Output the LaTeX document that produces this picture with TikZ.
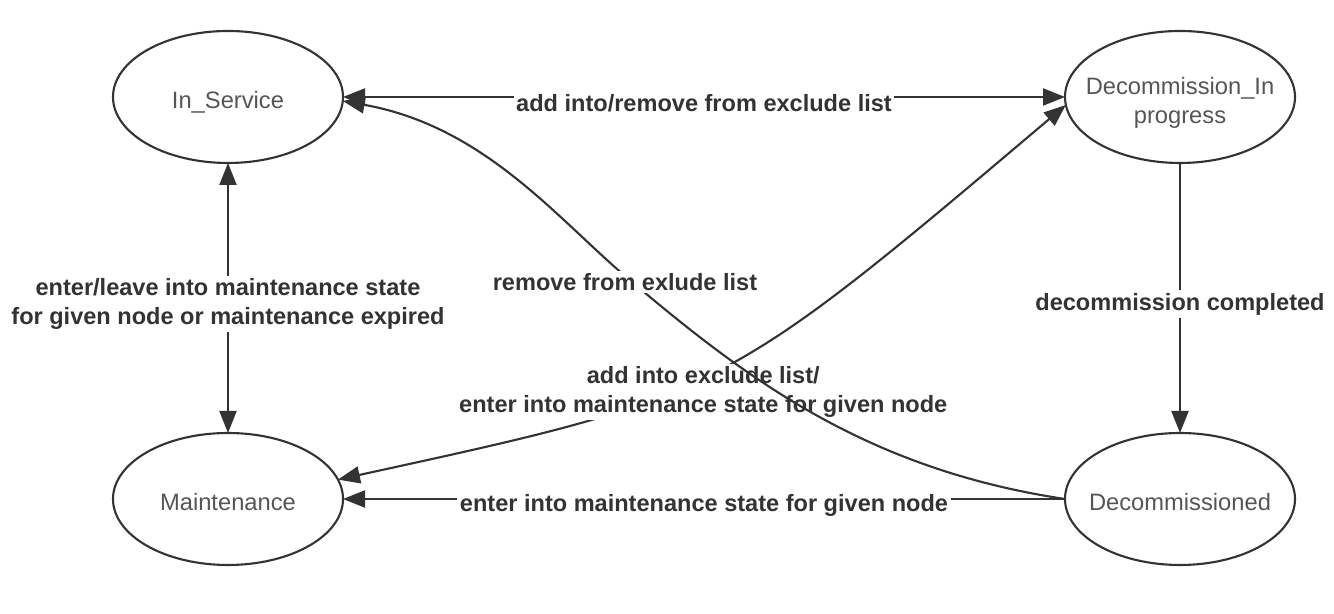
\documentclass[tikz,border=0pt]{standalone}
\usepackage{fontspec}
\setmainfont{Liberation Sans}
\usetikzlibrary{arrows.meta,positioning,shapes.geometric}
\definecolor{edgegray}{HTML}{333333}
\definecolor{namegray}{HTML}{555555}

\begin{document}
\begin{tikzpicture}[
    node distance=5.4cm and 14.44cm,
    statebox/.style={ellipse, draw=edgegray, line width=1.2pt, minimum width=4.6cm, minimum height=2.64cm, inner sep=-4mm, outer sep=0pt, align=center, text=namegray, text height=1.3em, text depth=0pt, font=\fontsize{13.5}{16.4}\selectfont},
    lbl/.style={fill=white, inner sep=1.5pt, align=center, text=edgegray, yshift=-0.12cm, font=\bfseries\fontsize{13.4}{16.4}\selectfont},
    link/.style={draw=edgegray, line width=1.2pt},
    >={Triangle[length=4.4mm, width=3.4mm]}
  ]
    \useasboundingbox (0,0) rectangle (26.68,12.28);
    \node[statebox] (inservice) at (4.56,10.34) {In\_Service};
    \node[statebox, right=of inservice, text height=3em] (decomprog) {Decommission\_In\\progress};
    \node[statebox, below=of inservice] (maint) {Maintenance};
    \node[statebox, below=of decomprog, text height=1.3em] (decomd) {Decommissioned};

    \draw[link, <->] (inservice) -- node[lbl] {add into/remove from exclude list} (decomprog);
    \draw[link, <->] (inservice) -- node[lbl] {enter/leave into maintenance state\\for given node or maintenance expired} (maint);
    \draw[link, ->] (decomprog) -- node[lbl] {decommission completed} (decomd);
    \draw[link, ->] (decomd) -- node[lbl] {enter into maintenance state for given node} (maint);
    \draw[link, <->] (maint.10) .. controls +(7.7,1.68) and +(-6.88,-5.82) .. (decomprog.184)
      node[lbl, pos=0.5, xshift=-0.28cm, yshift=-0.32cm] {add into exclude list/\\enter into maintenance state for given node};
    \draw[link, ->] (decomd.west) .. controls +(-4,0.6) and +(2.4,-2.04) .. (12.5,6.76) node[lbl] {remove from exlude list}
      .. controls +(-1.4,1.2) and +(2.8,-0.5) .. (inservice.-2);
  \end{tikzpicture}
\end{document}
